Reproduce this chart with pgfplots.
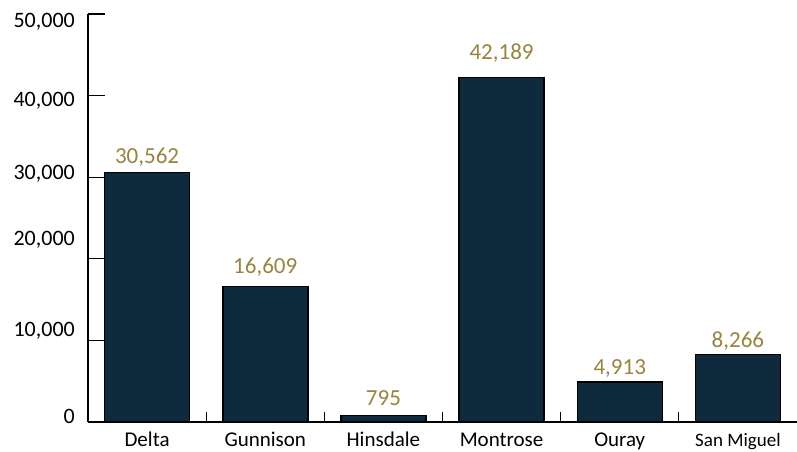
\documentclass[border=0pt]{standalone}
\usepackage{pgfplots}
\usepackage{pgfplotstable}
\pgfplotsset{compat=1.18}
\usepackage{fontspec}
\setmainfont{Carlito}
\definecolor{navy}{RGB}{15,41,61}
\definecolor{gold}{RGB}{152,131,64}
\pgfplotstableread{
x val off
0 30562 9.6
1 16609 12.7
2 795 10
3 42189 18
4 4913 7
5 8266 7
}\data
\begin{document}
\begin{tikzpicture}
\path[use as bounding box] (-88bp,-30bp) rectangle (709bp,422bp);
\begin{axis}[
  scale only axis,
  width=709bp, height=408bp,
  xmin=-0.5, xmax=5.5,
  ymin=0, ymax=50000,
  enlargelimits=false,
  axis lines*=left,
  axis line style={line width=2bp, black},
  /pgf/number format/assume math mode=true,
  /pgf/number format/1000 sep={,},
  scaled y ticks=false,
  ybar, bar width=85bp,
  xtick={0,1,2,3,4,5},
  xticklabels={Delta,Gunnison,Hinsdale,Montrose,Ouray,{\fontsize{19bp}{22bp}\selectfont San Miguel}},
  minor xtick={0.5,1.5,2.5,3.5,4.5},
  every major x tick/.style={draw=none},
  every minor x tick/.style={line width=1bp, black},
  minor tick length=10bp,
  major tick length=17bp,
  tick align=inside,
  every major y tick/.style={line width=1.3bp, black},
  ytick={0,10000,20000,30000,40000,50000},
  yticklabels={\raisebox{-1bp}{0},\raisebox{3.7bp}{10,000},\raisebox{13bp}{20,000},\raisebox{-2bp}{30,000},\raisebox{-11bp}{40,000},\raisebox{-13bp}{50,000}},
  yticklabel style={anchor=base east, inner sep=0pt, xshift=-13bp, font=\fontsize{22bp}{26bp}\selectfont, text=black},
  xticklabel style={anchor=base, inner sep=0pt, yshift=-24bp, font=\fontsize{21bp}{25bp}\selectfont, text=black},
]
\addplot[fill=navy, draw=black, line width=1.5bp,
  nodes near coords,
  visualization depends on={\thisrow{off} \as \off},
  every node near coord/.style={anchor=base, inner sep=0pt, text=gold, font=\fontsize{23bp}{27bp}\selectfont, yshift=\off pt}
] table[x=x, y=val]{\data};
\end{axis}
\end{tikzpicture}
\end{document}
